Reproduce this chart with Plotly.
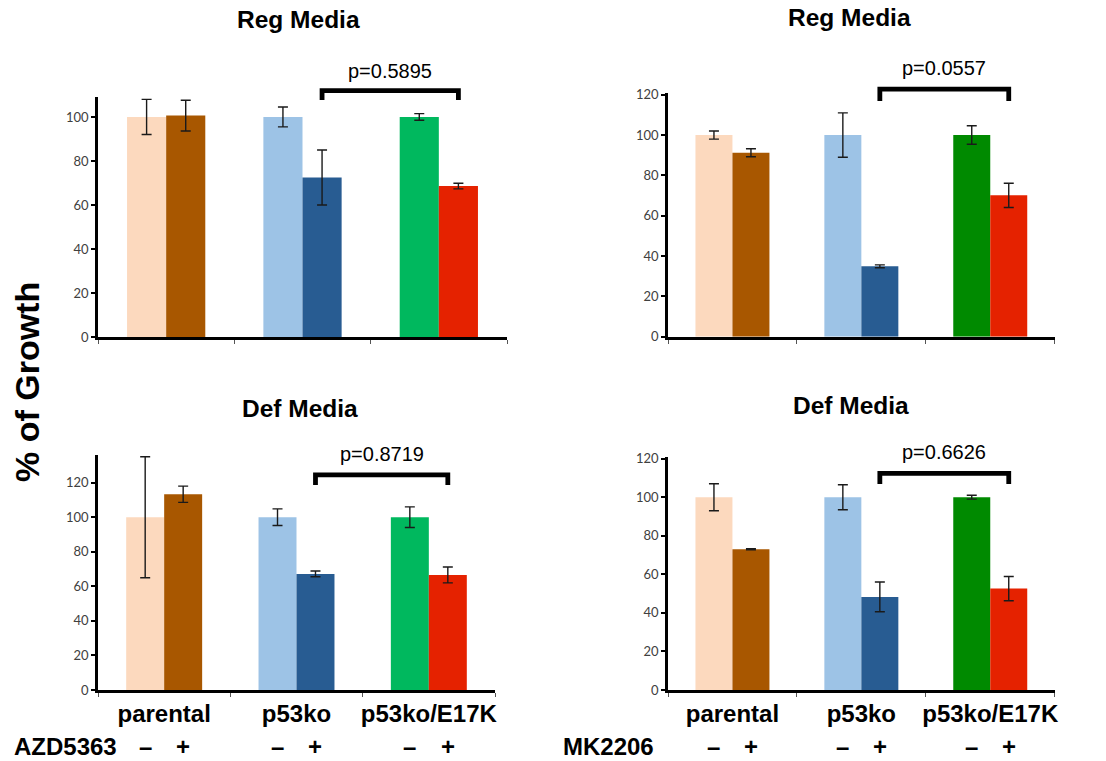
import plotly.graph_objects as go

W, H = 1106, 761

# ---------------- data ----------------
categories = ["parental", "p53ko", "p53ko/E17K"]

tl_minus = [100, 100, 100]
tl_minus_err = [8, 4.5, 1.5]
tl_plus = [100.6, 72.5, 68.6]
tl_plus_err = [7, 12.5, 1.3]

tr_minus = [100, 100, 100]
tr_minus_err = [2, 11, 4.6]
tr_plus = [91.2, 34.9, 70.1]
tr_plus_err = [2, 0.7, 6]

bl_minus = [100, 100, 100]
bl_minus_err = [35, 4.8, 6]
bl_plus = [113.3, 67.2, 66.6]
bl_plus_err = [4.7, 1.7, 4.6]

br_minus = [100, 100, 100]
br_minus_err = [7, 6.5, 1]
br_plus = [73, 48.3, 52.6]
br_plus_err = [0.3, 7.7, 6.3]

titles = ["Reg Media", "Reg Media", "Def Media", "Def Media"]
p_values = ["p=0.5895", "p=0.0557", "p=0.8719", "p=0.6626"]
drugs = ["AZD5363", "MK2206"]
signs = ["–", "+"]
y_title = "% of Growth"

# bracket levels (top, bottom) and p-label level, in % units
bracket_top = [112, 122.8, 124.5, 112.4]
bracket_bottom = [107.7, 116.9, 118.7, 106.9]
p_label_y = [121, 133.1, 136.7, 123.7]

# ---------------- styling / layout ----------------
minus_sets = [tl_minus, tr_minus, bl_minus, br_minus]
minus_errs = [tl_minus_err, tr_minus_err, bl_minus_err, br_minus_err]
plus_sets = [tl_plus, tr_plus, bl_plus, br_plus]
plus_errs = [tl_plus_err, tr_plus_err, bl_plus_err, br_plus_err]

peach, brown = "#FCD9BE", "#A85700"
lblue, dblue = "#9DC3E6", "#285C92"
green_a, green_b = "#00B85E", "#008A00"
red = "#E52200"
minus_colors = [[peach, lblue, green_a], [peach, lblue, green_b],
                [peach, lblue, green_a], [peach, lblue, green_b]]
plus_colors = [[brown, dblue, red]] * 4

panel_x_px = [(98, 507), (668, 1054.7), (98, 495), (668, 1054.7)]
panel_y_px = [(96.7, 337), (93.3, 336.7), (455, 690), (457.3, 690)]
y_max = [109.2, 120.7, 136, 120.7]
title_px = [(298, 20), (849, 17), (300, 408), (851, 405)]

BARGAP = 0.426
OFF = (1 - BARGAP) / 4  # centre offset of each bar in a group

ARIAL = "Liberation Sans, Arial, sans-serif"

fig = go.Figure()

for i in range(4):
    xa = "x" if i == 0 else f"x{i+1}"
    ya = "y" if i == 0 else f"y{i+1}"
    err_style = dict(type="data", color="#1a1a1a", thickness=1.4, width=5)
    fig.add_trace(go.Bar(
        x=categories, y=minus_sets[i],
        error_y=dict(array=minus_errs[i], **err_style),
        marker=dict(color=minus_colors[i], line=dict(width=0)),
        xaxis=xa, yaxis=ya, showlegend=False, name="–"))
    fig.add_trace(go.Bar(
        x=categories, y=plus_sets[i],
        error_y=dict(array=plus_errs[i], **err_style),
        marker=dict(color=plus_colors[i], line=dict(width=0)),
        xaxis=xa, yaxis=ya, showlegend=False, name="+"))

layout = dict(
    width=W, height=H,
    margin=dict(l=0, r=0, t=0, b=0, autoexpand=False),
    paper_bgcolor="white", plot_bgcolor="white",
    barmode="group", bargap=BARGAP, bargroupgap=0,
    showlegend=False,
)

for i in range(4):
    sx = "" if i == 0 else str(i + 1)
    x0, x1 = panel_x_px[i]
    top, bot = panel_y_px[i]
    layout["xaxis" + sx] = dict(
        domain=[x0 / W, x1 / W], anchor="y" + sx,
        type="category", range=[-0.5, 2.5], automargin=False,
        showline=True, linecolor="black", linewidth=3,
        ticks="outside", tickson="boundaries", ticklen=4, tickwidth=1,
        tickcolor="#555", tickangle=0,
        showgrid=False, zeroline=False,
        showticklabels=(i >= 2),
        tickfont=dict(family=ARIAL, size=24, color="black", weight="bold"),
    )
    layout["yaxis" + sx] = dict(
        domain=[(H - bot) / H, (H - top) / H], anchor="x" + sx,
        range=[0, y_max[i]], tick0=0, dtick=20, automargin=False,
        showline=True, linecolor="black", linewidth=2.5,
        ticks="outside", ticklen=4, tickwidth=2, tickcolor="black",
        showgrid=False, zeroline=False,
        tickfont=dict(family="Lato, Liberation Sans, sans-serif", size=13,
                      color="#404040"),
    )

fig.update_layout(**layout)


def paper_x(i, v):
    x0, x1 = panel_x_px[i]
    return (x0 + (v + 0.5) / 3 * (x1 - x0)) / W


def paper_y(i, v):
    top, bot = panel_y_px[i]
    return (H - (bot - v / y_max[i] * (bot - top))) / H


annotations = []
shapes = []
for i in range(4):
    # titles
    tx, ty = title_px[i]
    annotations.append(dict(
        text=titles[i], x=tx / W, y=(H - ty) / H, xref="paper", yref="paper",
        xanchor="center", yanchor="middle", showarrow=False,
        font=dict(family=ARIAL, size=24.5, color="black", weight="bold")))
    # bracket between p53ko(+) and p53ko/E17K(+)
    xl = paper_x(i, 1 + OFF)
    xr = paper_x(i, 2 + OFF)
    yt = paper_y(i, bracket_top[i])
    yb = paper_y(i, bracket_bottom[i])
    shapes.append(dict(
        type="path", xref="paper", yref="paper",
        path=f"M {xl},{yb} L {xl},{yt} L {xr},{yt} L {xr},{yb}",
        line=dict(color="black", width=4.8)))
    annotations.append(dict(
        text=p_values[i], x=(xl + xr) / 2, y=paper_y(i, p_label_y[i]),
        xref="paper", yref="paper", xanchor="center", yanchor="middle",
        showarrow=False,
        font=dict(family=ARIAL, size=20, color="black")))

# drug rows under the bottom panels
for k, i in enumerate([2, 3]):
    row_y = (H - 746.7) / H
    lab_x = [12, 561][k]
    annotations.append(dict(
        text=drugs[k], x=lab_x / W, y=row_y, xref="paper", yref="paper",
        xanchor="left", yanchor="middle", showarrow=False,
        font=dict(family=ARIAL, size=24, color="black", weight="bold")))
    for c in range(len(categories)):
        for s, sgn in enumerate(signs):
            annotations.append(dict(
                text=sgn, x=paper_x(i, c + (-OFF if s == 0 else OFF)),
                y=row_y, xref="paper", yref="paper",
                xanchor="center", yanchor="middle", showarrow=False,
                font=dict(family=ARIAL, size=24, color="black",
                          weight="bold")))

# shared y-axis title
annotations.append(dict(
    text=y_title, x=27 / W, y=(H - 382) / H, xref="paper", yref="paper",
    xanchor="center", yanchor="middle", showarrow=False, textangle=-90,
    font=dict(family=ARIAL, size=34, color="black", weight="bold")))

fig.update_layout(annotations=annotations, shapes=shapes)

fig.write_html("out.html", config={"displayModeBar": False},
               post_script="document.body.style.margin='0px';")
